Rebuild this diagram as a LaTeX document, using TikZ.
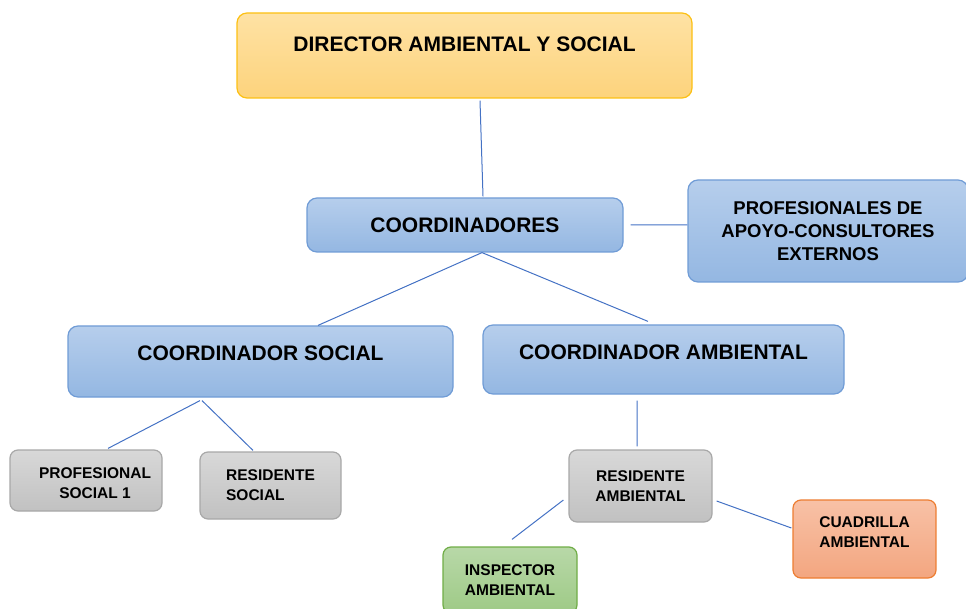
\documentclass[tikz,border=0pt]{standalone}
\usepackage{fontspec}
\setmainfont{Liberation Sans}
\usepackage{xcolor}

\definecolor{linea}{RGB}{68,114,196}
\definecolor{dirtop}{RGB}{254,226,164}
\definecolor{dirbot}{RGB}{253,211,124}
\definecolor{dirline}{RGB}{252,192,20}
\definecolor{bltop}{RGB}{182,206,236}
\definecolor{blbot}{RGB}{148,183,226}
\definecolor{blline}{RGB}{112,156,214}
\definecolor{grtop}{RGB}{216,216,216}
\definecolor{grbot}{RGB}{193,193,193}
\definecolor{grline}{RGB}{168,168,168}
\definecolor{vetop}{RGB}{184,216,168}
\definecolor{vebot}{RGB}{158,202,134}
\definecolor{veline}{RGB}{112,173,71}
\definecolor{natop}{RGB}{248,193,166}
\definecolor{nabot}{RGB}{243,166,128}
\definecolor{naline}{RGB}{237,125,49}

\tikzset{
  caja/.style={draw, rounded corners=10pt, line width=1.2pt, inner sep=2pt, align=center},
  grande/.style={caja, font=\bfseries\fontsize{21}{25}\selectfont},
  chica/.style={caja, rounded corners=8pt, font=\bfseries\fontsize{15.5}{20}\selectfont},
  azul/.style={draw=blline, top color=bltop, bottom color=blbot},
  gris/.style={draw=grline, top color=grtop, bottom color=grbot},
}

\begin{document}
\begin{tikzpicture}[x=1pt,y=-1pt]
   \useasboundingbox (0,0) rectangle (966,609);

   \node[grande, draw=dirline, top color=dirtop, bottom color=dirbot,
         minimum width=455pt, minimum height=85pt, text depth=22pt] (dir) at (464.5,55.5) {DIRECTOR AMBIENTAL Y SOCIAL};
   \node[grande, azul, minimum width=316pt, minimum height=54pt] (coord) at (465,225) {COORDINADORES};
   \node[caja, azul, font=\bfseries\fontsize{18.5}{23}\selectfont,
         minimum width=280pt, minimum height=102pt] (apoyo) at (828,231) {PROFESIONALES DE\\APOYO-CONSULTORES\\EXTERNOS};
   \node[grande, azul, minimum width=385pt, minimum height=71pt, text depth=17pt] (csoc) at (260.5,361.5) {COORDINADOR SOCIAL};
   \node[grande, azul, minimum width=361pt, minimum height=69pt, text depth=15pt] (camb) at (663.5,359.5) {COORDINADOR AMBIENTAL};

   \node[chica, gris, minimum width=152pt, minimum height=61pt] (prof) at (86,480.5)
        {\hspace*{18pt}\begin{tabular}{@{}c@{}}\rule{0pt}{22pt}PROFESIONAL\\SOCIAL 1\end{tabular}};
   \node[chica, gris, align=left, minimum width=141pt, minimum height=67pt] (ressoc) at (270.5,485.5) {RESIDENTE\\SOCIAL};
   \node[chica, gris, minimum width=143pt, minimum height=72pt] (resamb) at (640.5,486) {RESIDENTE\\AMBIENTAL};
   \node[chica, draw=veline, top color=vetop, bottom color=vebot,
         minimum width=134pt, minimum height=66pt] (insp) at (510,580) {INSPECTOR\\AMBIENTAL};
   \node[chica, draw=naline, top color=natop, bottom color=nabot,
         minimum width=143pt, minimum height=78pt] (cuad) at (864.5,539)
        {\begin{tabular}{@{}c@{}}CUADRILLA\\AMBIENTAL\\[12pt]\end{tabular}};

   % conectores
   \draw[linea, line width=1pt]
      ([xshift=15.5pt,yshift=-2pt]dir.south) -- ([xshift=18pt,yshift=1pt]coord.north)
      ([xshift=7pt]coord.east) -- ([yshift=6pt]apoyo.west)
      ([xshift=17pt]coord.south) -- ([xshift=57.5pt]csoc.north)
      ([xshift=17pt]coord.south) -- ([xshift=-15.5pt,yshift=3pt]camb.north)
      ([xshift=-60.5pt,yshift=-3pt]csoc.south) -- ([xshift=22pt,yshift=1pt]prof.north)
      ([xshift=-58.5pt,yshift=-3pt]csoc.south) -- ([xshift=-17.5pt,yshift=1pt]ressoc.north)
      ([xshift=-26.5pt,yshift=-6pt]camb.south) -- ([xshift=-3.5pt,yshift=3pt]resamb.north)
      ([xshift=-5pt,yshift=-14pt]resamb.west) -- ([xshift=2pt,yshift=7pt]insp.north)
      ([xshift=4pt,yshift=-15pt]resamb.east) -- ([xshift=-1pt,yshift=11pt]cuad.west);
\end{tikzpicture}
\end{document}
